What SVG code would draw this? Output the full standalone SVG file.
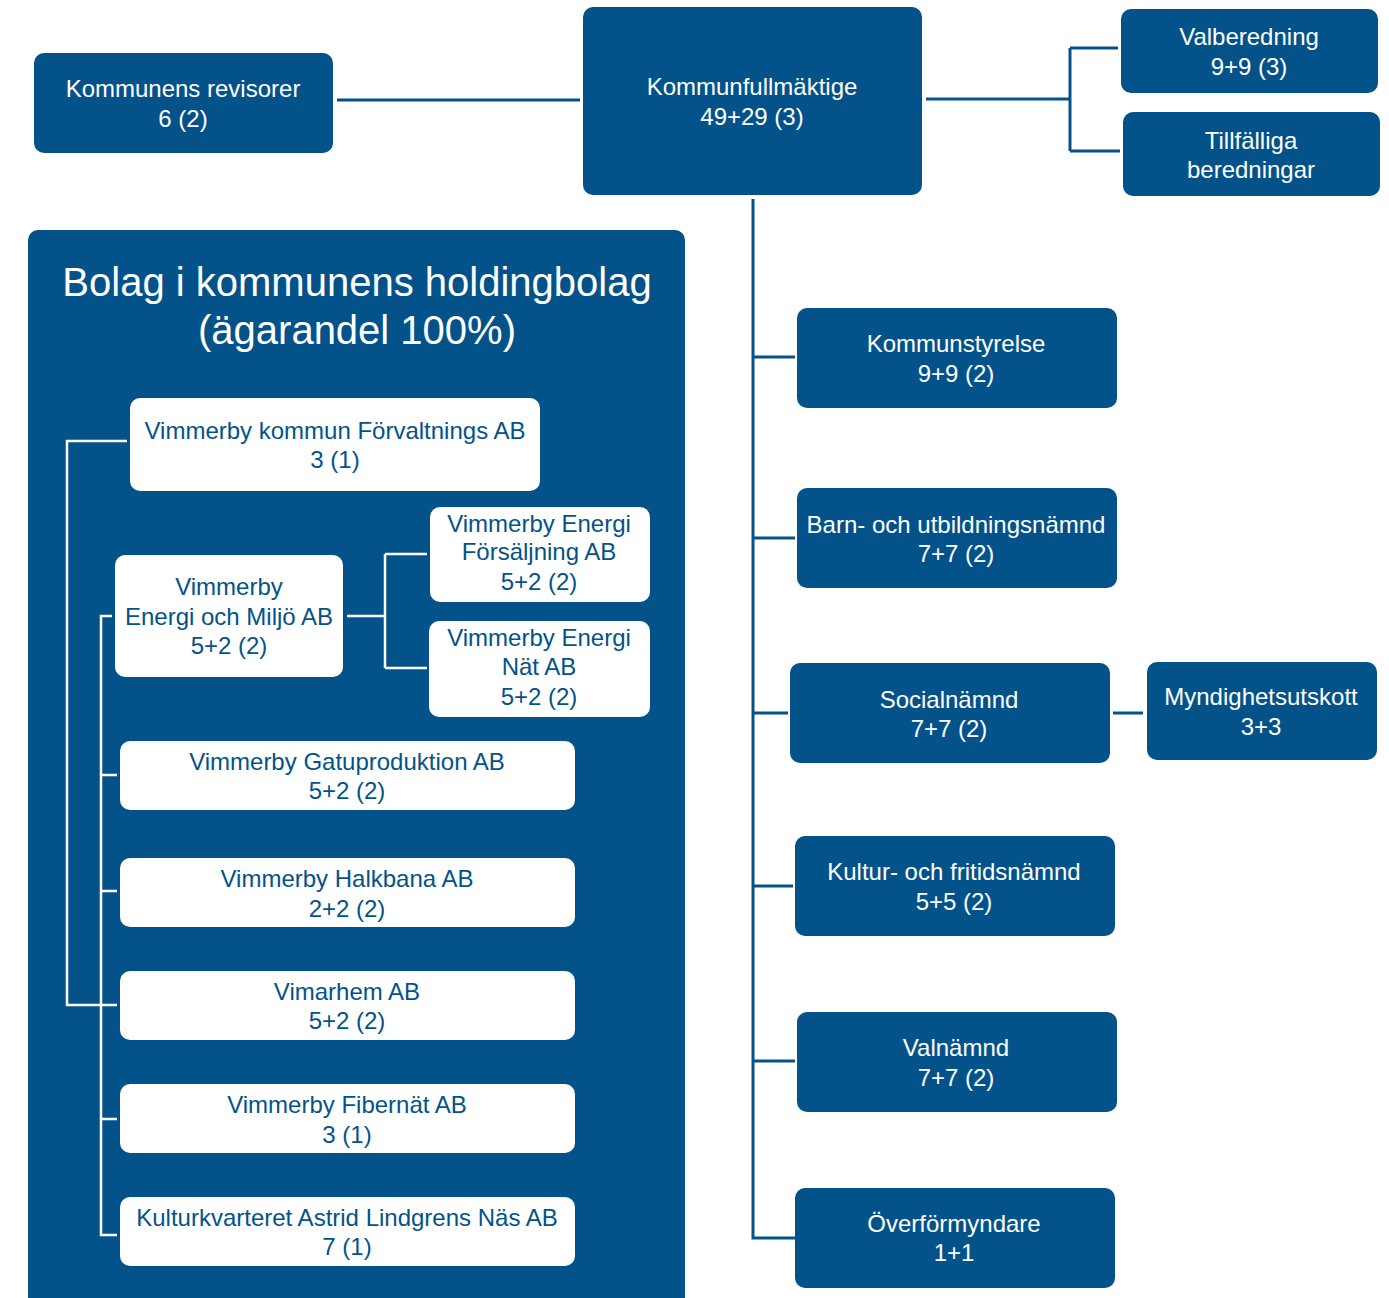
<svg xmlns="http://www.w3.org/2000/svg" width="1389" height="1298" viewBox="0 0 1389 1298">
<style>
.b{fill:#03538a}
.w{fill:#ffffff}
.tw{fill:#ffffff;font-family:"Liberation Sans",Arial,sans-serif;font-size:24px;text-anchor:middle}
.tb{fill:#03538a;font-family:"Liberation Sans",Arial,sans-serif;font-size:24px;text-anchor:middle}
.title{fill:#ffffff;font-family:"Liberation Sans",Arial,sans-serif;font-size:40px;text-anchor:middle}
.cb{fill:none;stroke:#03538a;stroke-width:3}
.cw{fill:none;stroke:#ffffff;stroke-width:2.5}
</style>
<rect width="1389" height="1298" fill="#ffffff"/>
<g id="holding">
<rect class="b" x="28" y="230" width="657" height="1090" rx="10"/>
<text class="title" x="357" y="296">Bolag i kommunens holdingbolag</text>
<text class="title" x="357" y="344">(ägarandel 100%)</text>
</g>
<g id="connectors">
<path class="cb" d="M337,100 H580"/>
<path class="cb" d="M926,99 H1070 M1070,48 V151 M1070,48 H1118 M1070,151 H1120"/>
<path class="cb" d="M753,199 V1238 H795 M753,357 H795 M753,538 H795 M753,713 H788 M753,886 H793 M753,1061 H795"/>
<path class="cb" d="M1113,713 H1143"/>
<path class="cw" d="M127,441 H67 V1005 H117"/>
<path class="cw" d="M112,616 H101 V1235 H117 M101,775 H117 M101,891 H117 M101,1119 H117"/>
<path class="cw" d="M347,616 H385 M385,554 V668 M385,554 H427 M385,668 H427"/>
</g>
<g id="revisorer"><rect class="b" x="34" y="53" width="299" height="100" rx="10"/><text class="tw" x="183" y="97">Kommunens revisorer</text><text class="tw" x="183" y="127">6 (2)</text></g>
<g id="kf"><rect class="b" x="583" y="7" width="339" height="188" rx="10"/><text class="tw" x="752" y="95">Kommunfullmäktige</text><text class="tw" x="752" y="125">49+29 (3)</text></g>
<g id="valberedning"><rect class="b" x="1121" y="9" width="257" height="84" rx="10"/><text class="tw" x="1249" y="45">Valberedning</text><text class="tw" x="1249" y="75">9+9 (3)</text></g>
<g id="tillfalliga"><rect class="b" x="1123" y="112" width="257" height="84" rx="10"/><text class="tw" x="1251" y="149">Tillfälliga</text><text class="tw" x="1251" y="178">beredningar</text></g>
<g id="ks"><rect class="b" x="797" y="308" width="320" height="100" rx="10"/><text class="tw" x="956" y="352">Kommunstyrelse</text><text class="tw" x="956" y="382">9+9 (2)</text></g>
<g id="bun"><rect class="b" x="797" y="488" width="320" height="100" rx="10"/><text class="tw" x="956" y="533">Barn- och utbildningsnämnd</text><text class="tw" x="956" y="562">7+7 (2)</text></g>
<g id="sn"><rect class="b" x="790" y="663" width="320" height="100" rx="10"/><text class="tw" x="949" y="708">Socialnämnd</text><text class="tw" x="949" y="737">7+7 (2)</text></g>
<g id="mu"><rect class="b" x="1147" y="662" width="230" height="98" rx="10"/><text class="tw" x="1261" y="705">Myndighetsutskott</text><text class="tw" x="1261" y="735">3+3</text></g>
<g id="kfn"><rect class="b" x="795" y="836" width="320" height="100" rx="10"/><text class="tw" x="954" y="880">Kultur- och fritidsnämnd</text><text class="tw" x="954" y="910">5+5 (2)</text></g>
<g id="vn"><rect class="b" x="797" y="1012" width="320" height="100" rx="10"/><text class="tw" x="956" y="1056">Valnämnd</text><text class="tw" x="956" y="1086">7+7 (2)</text></g>
<g id="of"><rect class="b" x="795" y="1188" width="320" height="100" rx="10"/><text class="tw" x="954" y="1232">Överförmyndare</text><text class="tw" x="954" y="1261">1+1</text></g>
<g id="forvaltning"><rect class="w" x="130" y="398" width="410" height="93" rx="10"/><text class="tb" x="335" y="439">Vimmerby kommun Förvaltnings AB</text><text class="tb" x="335" y="468">3 (1)</text></g>
<g id="energimiljo"><rect class="w" x="115" y="555" width="228" height="122" rx="10"/><text class="tb" x="229" y="595">Vimmerby</text><text class="tb" x="229" y="625">Energi och Miljö AB</text><text class="tb" x="229" y="654">5+2 (2)</text></g>
<g id="forsaljning"><rect class="w" x="430" y="507" width="220" height="95" rx="10"/><text class="tb" x="539" y="532">Vimmerby Energi</text><text class="tb" x="539" y="560">Försäljning AB</text><text class="tb" x="539" y="590">5+2 (2)</text></g>
<g id="nat"><rect class="w" x="429" y="621" width="221" height="96" rx="10"/><text class="tb" x="539" y="646">Vimmerby Energi</text><text class="tb" x="539" y="675">Nät AB</text><text class="tb" x="539" y="705">5+2 (2)</text></g>
<g id="gatu"><rect class="w" x="120" y="741" width="455" height="69" rx="10"/><text class="tb" x="347" y="770">Vimmerby Gatuproduktion AB</text><text class="tb" x="347" y="799">5+2 (2)</text></g>
<g id="halkbana"><rect class="w" x="120" y="858" width="455" height="69" rx="10"/><text class="tb" x="347" y="887">Vimmerby Halkbana AB</text><text class="tb" x="347" y="917">2+2 (2)</text></g>
<g id="vimarhem"><rect class="w" x="120" y="971" width="455" height="69" rx="10"/><text class="tb" x="347" y="1000">Vimarhem AB</text><text class="tb" x="347" y="1029">5+2 (2)</text></g>
<g id="fibernat"><rect class="w" x="120" y="1084" width="455" height="69" rx="10"/><text class="tb" x="347" y="1113">Vimmerby Fibernät AB</text><text class="tb" x="347" y="1143">3 (1)</text></g>
<g id="kulturkvarteret"><rect class="w" x="120" y="1197" width="455" height="69" rx="10"/><text class="tb" x="347" y="1226">Kulturkvarteret Astrid Lindgrens Näs AB</text><text class="tb" x="347" y="1255">7 (1)</text></g>
</svg>
